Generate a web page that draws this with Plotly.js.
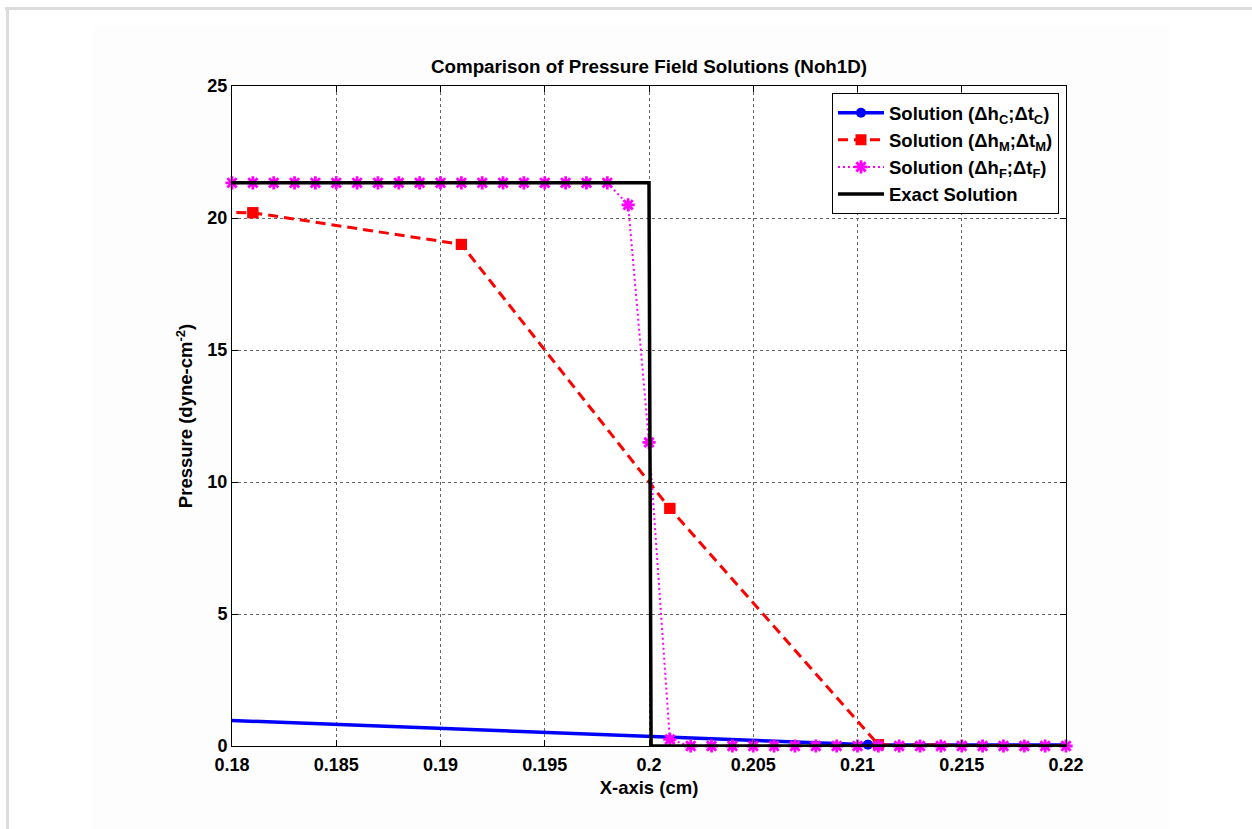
<!DOCTYPE html>
<html>
<head>
<meta charset="utf-8">
<script src="https://cdn.plot.ly/plotly-3.0.1.min.js"></script>
<style>
  html, body { margin: 0; padding: 0; background: #ffffff; }
  #wrap { position: relative; width: 1252px; height: 829px; overflow: hidden; background: #ffffff; }
  #faint { position: absolute; left: 93px; top: 25px; width: 1077px; height: 804px; background: #fdfdfd; }
  #btop { position: absolute; left: 5px; top: 7px; width: 1247px; height: 3px; background: #dcdcdc; }
  #bleft { position: absolute; left: 6px; top: 7px; width: 3px; height: 822px; background: #dcdcdc; }
  #chart { position: absolute; left: 0; top: 0; width: 1252px; height: 829px; }
</style>
</head>
<body>
<div id="wrap">
  <div id="faint"></div>
  <div id="btop"></div>
  <div id="bleft"></div>
  <div id="chart"></div>
</div>
<script>
// ---- data ----
const coarseX = [0.1705, 0.2105, 0.2505];
const coarseP = [1.25, 0.05, 0.0];

const mediumX = [0.171, 0.181, 0.191, 0.201, 0.211, 0.221];
const mediumP = [20.3, 20.2, 19.0, 9.0, 0.05, 0.0];

const fineX = [0.180, 0.181, 0.182, 0.183, 0.184, 0.185, 0.186, 0.187, 0.188, 0.189,
               0.190, 0.191, 0.192, 0.193, 0.194, 0.195, 0.196, 0.197, 0.198, 0.199,
               0.200, 0.201, 0.202, 0.203, 0.204, 0.205, 0.206, 0.207, 0.208, 0.209,
               0.210, 0.211, 0.212, 0.213, 0.214, 0.215, 0.216, 0.217, 0.218, 0.219,
               0.220];
const fineP = [21.333, 21.333, 21.333, 21.333, 21.333, 21.333, 21.333, 21.333, 21.333, 21.333,
               21.333, 21.333, 21.333, 21.333, 21.333, 21.333, 21.333, 21.333, 21.333, 20.5,
               11.5, 0.25, 0.0, 0.0, 0.0, 0.0, 0.0, 0.0, 0.0, 0.0,
               0.0, 0.0, 0.0, 0.0, 0.0, 0.0, 0.0, 0.0, 0.0, 0.0,
               0.0];

const exactX = [0.18, 0.2, 0.2001, 0.22];
const exactP = [21.333, 21.333, 0.0, 0.0];

const xTickVals = [0.18, 0.185, 0.19, 0.195, 0.2, 0.205, 0.21, 0.215, 0.22];
const xTickText = ['0.18', '0.185', '0.19', '0.195', '0.2', '0.205', '0.21', '0.215', '0.22'];
const yTickVals = [0, 5, 10, 15, 20, 25];
const yTickText = ['0', '5', '10', '15', '20', '25'];

const xRange = [0.18, 0.22];
const yRange = [0, 25];

const names = [
  'Solution (Δh<sub>C</sub>;Δt<sub>C</sub>)',
  'Solution (Δh<sub>M</sub>;Δt<sub>M</sub>)',
  'Solution (Δh<sub>F</sub>;Δt<sub>F</sub>)',
  'Exact Solution'
];
const chartTitle = 'Comparison of Pressure Field Solutions (Noh1D)';
const xTitle = 'X-axis (cm)';
const yTitle = 'Pressure (dyne-cm<sup>-2</sup>)';

// points inside the visible x range (for unclipped marker overlay)
function inRange(xs, ys) {
  const ox = [], oy = [];
  xs.forEach((v, i) => {
    if (v >= xRange[0] - 1e-9 && v <= xRange[1] + 1e-9) { ox.push(v); oy.push(ys[i]); }
  });
  return { x: ox, y: oy };
}

const FONT = 'Liberation Sans, Arial, Helvetica, sans-serif';
const BLUE = '#0000ff', RED = '#ff0000', MAG = '#ff00ff';

const blueMarker = { symbol: 'circle', color: BLUE, size: 10 };
const redMarker = { symbol: 'square', color: RED, size: 11 };
const magMarker = { symbol: 'asterisk-open', size: 11, color: MAG, line: { color: MAG, width: 2.8 } };

const cIn = inRange(coarseX, coarseP);
const mIn = inRange(mediumX, mediumP);

const traces = [
  {
    x: coarseX, y: coarseP, name: names[0], type: 'scatter', mode: 'lines+markers',
    line: { color: BLUE, width: 3.5 }, marker: blueMarker
  },
  {
    x: cIn.x, y: cIn.y, type: 'scatter', mode: 'markers', showlegend: false,
    marker: blueMarker, cliponaxis: false
  },
  {
    x: mediumX, y: mediumP, name: names[1], type: 'scatter', mode: 'lines+markers',
    line: { color: RED, width: 3, dash: '10px,6px' }, marker: redMarker
  },
  {
    x: mIn.x, y: mIn.y, type: 'scatter', mode: 'markers', showlegend: false,
    marker: redMarker, cliponaxis: false
  },
  {
    x: fineX, y: fineP, name: names[2], type: 'scatter', mode: 'lines+markers',
    line: { color: MAG, width: 2, dash: '2px,3px' },
    marker: magMarker, cliponaxis: false
  },
  {
    x: exactX, y: exactP, name: names[3], type: 'scatter', mode: 'lines',
    line: { color: '#000000', width: 3.5 }
  }
];

const axisCommon = {
  showgrid: true, griddash: 'dot', gridcolor: '#666666', gridwidth: 1,
  ticks: 'inside', ticklen: 6, tickcolor: '#000000', tickwidth: 1,
  showline: true, linecolor: '#000000', linewidth: 1, mirror: 'ticks',
  zeroline: false,
  tickfont: { family: FONT, size: 18, weight: 'bold', color: '#000000' }
};

const layout = {
  width: 1252, height: 829,
  margin: { l: 232, r: 186, t: 86, b: 83, pad: 0 },
  paper_bgcolor: 'rgba(0,0,0,0)',
  plot_bgcolor: '#ffffff',
  showlegend: true,
  title: {
    text: chartTitle,
    font: { family: FONT, size: 18.8, weight: 'bold', color: '#000000' },
    xref: 'paper', x: 0.5, xanchor: 'center',
    yref: 'container', y: 1 - 66 / 829, yanchor: 'middle'
  },
  xaxis: Object.assign({}, axisCommon, {
    range: xRange, tickmode: 'array', tickvals: xTickVals, ticktext: xTickText,
    ticklabelstandoff: 2,
    title: { text: xTitle, font: { family: FONT, size: 18.5, weight: 'bold', color: '#000000' }, standoff: 7 }
  }),
  yaxis: Object.assign({}, axisCommon, {
    range: yRange, tickmode: 'array', tickvals: yTickVals, ticktext: yTickText,
    title: { text: yTitle, font: { family: FONT, size: 18.5, weight: 'bold', color: '#000000' }, standoff: 9 }
  }),
  legend: {
    x: 0.9916, xanchor: 'right', y: 0.989, yanchor: 'top',
    bgcolor: '#ffffff', bordercolor: '#000000', borderwidth: 1,
    font: { family: FONT, size: 18.5, weight: 'bold', color: '#000000' },
    itemwidth: 46, tracegroupgap: 0
  }
};

Plotly.newPlot('chart', traces, layout, { displayModeBar: false, staticPlot: true });
</script>
</body>
</html>
